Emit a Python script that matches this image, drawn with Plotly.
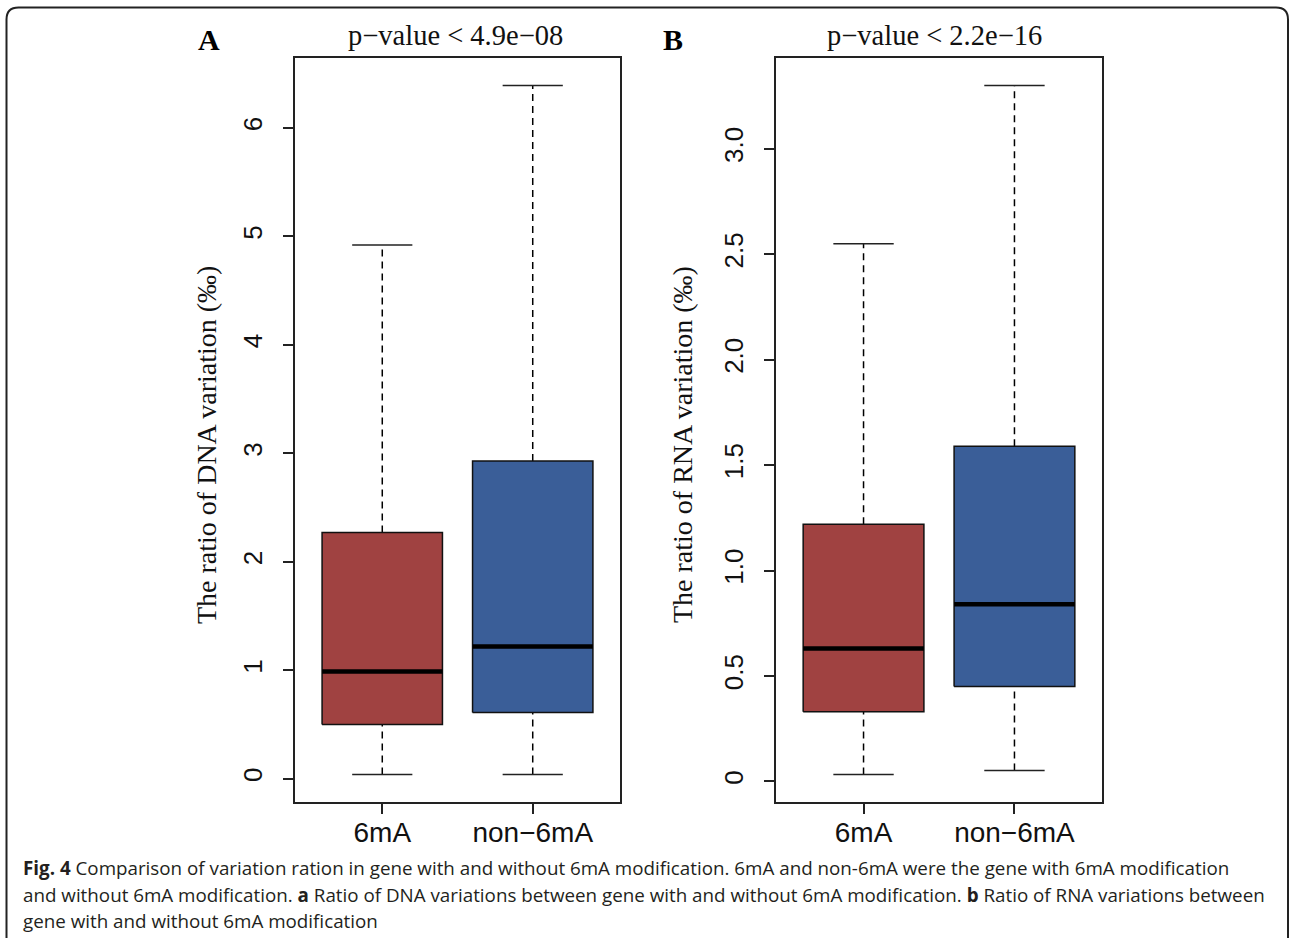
import plotly.graph_objects as go

categories = ["6mA", "non−6mA"]

# Panel A: DNA variation ratio (‰)
dna_lower = [0.04, 0.04]
dna_q1 = [0.50, 0.61]
dna_median = [0.99, 1.22]
dna_q3 = [2.27, 2.93]
dna_upper = [4.92, 6.39]

# Panel B: RNA variation ratio (‰)
rna_lower = [0.033, 0.052]
rna_q1 = [0.33, 0.45]
rna_median = [0.63, 0.84]
rna_q3 = [1.22, 1.59]
rna_upper = [2.55, 3.30]

box_colors = ["#A04241", "#3A5E98"]

dna_ticks = [0, 1, 2, 3, 4, 5, 6]
dna_ticktext = ["0", "1", "2", "3", "4", "5", "6"]
rna_ticks = [0, 0.5, 1.0, 1.5, 2.0, 2.5, 3.0]
rna_ticktext = ["0", "0.5", "1.0", "1.5", "2.0", "2.5", "3.0"]

SERIF = "Liberation Serif, Times New Roman, serif"
SANS = "Liberation Sans, Arial, Helvetica, sans-serif"
CAP = "Open Sans, Noto Sans, sans-serif"

HALF_BOX = 0.4
HALF_CAP = 0.2

fig = go.Figure()


def add_boxes(lower, q1, med, q3, upper, xa, ya):
    for i in range(len(categories)):
        x = i + 1
        for a, b in ((q3[i], upper[i]), (lower[i], q1[i])):
            fig.add_trace(go.Scatter(x=[x, x], y=[a, b], mode="lines",
                                     line=dict(color="black", width=1.5, dash="7px,5px"),
                                     xaxis=xa, yaxis=ya, showlegend=False, hoverinfo="skip"))
        for v in (lower[i], upper[i]):
            fig.add_trace(go.Scatter(x=[x - HALF_CAP, x + HALF_CAP], y=[v, v], mode="lines",
                                     line=dict(color="#222", width=1.5),
                                     xaxis=xa, yaxis=ya, showlegend=False, hoverinfo="skip"))
        fig.add_trace(go.Scatter(
            x=[x - HALF_BOX, x + HALF_BOX, x + HALF_BOX, x - HALF_BOX, x - HALF_BOX],
            y=[q1[i], q1[i], q3[i], q3[i], q1[i]],
            mode="lines", fill="toself", fillcolor=box_colors[i],
            line=dict(color="#111", width=1.5),
            xaxis=xa, yaxis=ya, showlegend=False, hoverinfo="skip"))
        fig.add_trace(go.Scatter(x=[x - HALF_BOX, x + HALF_BOX], y=[med[i], med[i]], mode="lines",
                                 line=dict(color="black", width=4.5),
                                 xaxis=xa, yaxis=ya, showlegend=False, hoverinfo="skip"))


add_boxes(dna_lower, dna_q1, dna_median, dna_q3, dna_upper, "x", "y")
add_boxes(rna_lower, rna_q1, rna_median, rna_q3, rna_upper, "x2", "y2")

W, H = 1290, 938


def px_x(p):
    return p / W


def px_y(p):
    return 1 - p / H


ydom = [px_y(802), px_y(58)]

common_x = dict(range=[0.42, 2.58], tickvals=[1, 2], ticktext=categories,
                showline=True, mirror=True, linecolor="#222", linewidth=1.5,
                ticks="outside", ticklen=10, tickwidth=1.5, tickcolor="#222",
                showgrid=False, zeroline=False, ticklabelstandoff=-5,
                tickfont=dict(family=SANS, size=28, color="#111"))
common_y = dict(showline=True, mirror=True, linecolor="#222", linewidth=1.5,
                ticks="outside", ticklen=10, tickwidth=1.5, tickcolor="#222",
                showgrid=False, zeroline=False, tickangle=-90,
                ticklabelstandoff=11,
                tickfont=dict(family=SANS, size=26, color="#111"))

dna_min = min(dna_lower); dna_max = max(dna_upper)
rna_min = min(rna_lower); rna_max = max(rna_upper)
dna_pad = (dna_max - dna_min) * 0.04
rna_pad = (rna_max - rna_min) * 0.04

fig.update_layout(
    width=W, height=H,
    margin=dict(l=0, r=0, t=0, b=0),
    paper_bgcolor="white", plot_bgcolor="white",
    showlegend=False,
    xaxis=dict(domain=[px_x(295), px_x(620)], anchor="y", **common_x),
    yaxis=dict(domain=ydom, anchor="x", range=[dna_min - dna_pad, dna_max + dna_pad],
               tickvals=dna_ticks, ticktext=dna_ticktext, **common_y),
    xaxis2=dict(domain=[px_x(776), px_x(1102)], anchor="y2", **common_x),
    yaxis2=dict(domain=ydom, anchor="x2", range=[rna_min - rna_pad, rna_max + rna_pad],
                tickvals=rna_ticks, ticktext=rna_ticktext, **common_y),
)

annotations = [
    dict(text="<b>A</b>", x=px_x(209), y=px_y(40), font=dict(family=SERIF, size=30, color="black")),
    dict(text="<b>B</b>", x=px_x(673), y=px_y(40), font=dict(family=SERIF, size=30, color="black")),
    dict(text="p−value &lt; 4.9e−08", x=px_x(455), y=px_y(35), font=dict(family=SERIF, size=28.5, color="#111")),
    dict(text="p−value &lt; 2.2e−16", x=px_x(934), y=px_y(35), font=dict(family=SERIF, size=28.5, color="#111")),
    dict(text="The ratio of DNA variation (‰)", x=px_x(206), y=px_y(445), textangle=-90,
         font=dict(family=SERIF, size=28, color="#111")),
    dict(text="The ratio of RNA variation (‰)", x=px_x(682), y=px_y(445), textangle=-90,
         font=dict(family=SERIF, size=28, color="#111")),
]
for a in annotations:
    a.update(xref="paper", yref="paper", showarrow=False, xanchor="center", yanchor="middle")

caption_lines = [
    "<b>Fig. 4</b> Comparison of variation ration in gene with and without 6mA modification. 6mA and non-6mA were the gene with 6mA modification",
    "and without 6mA modification. <b>a</b> Ratio of DNA variations between gene with and without 6mA modification. <b>b</b> Ratio of RNA variations between",
    "gene with and without 6mA modification",
]
for line, yy in zip(caption_lines, [868, 895, 921]):
    annotations.append(dict(text=line, x=px_x(21), y=px_y(yy), xref="paper", yref="paper",
                            showarrow=False, xanchor="left", yanchor="middle",
                            font=dict(family=CAP, size=18.8, color="#231f20")))

fig.update_layout(annotations=annotations)

# rounded frame around the figure
x0, x1 = px_x(6.5), px_x(1288)
yt = px_y(7.5)
rx, ry = 12 / W, 12 / H
path = (f"M {x0},-0.02 L {x0},{yt - ry} Q {x0},{yt} {x0 + rx},{yt} "
        f"L {x1 - rx},{yt} Q {x1},{yt} {x1},{yt - ry} L {x1},-0.02")
fig.add_shape(type="path", path=path, xref="paper", yref="paper",
              line=dict(color="#222", width=2))

fig.write_html("out.html", config={"displayModeBar": False},
               post_script="document.body.style.margin='0';document.body.style.padding='0';")
